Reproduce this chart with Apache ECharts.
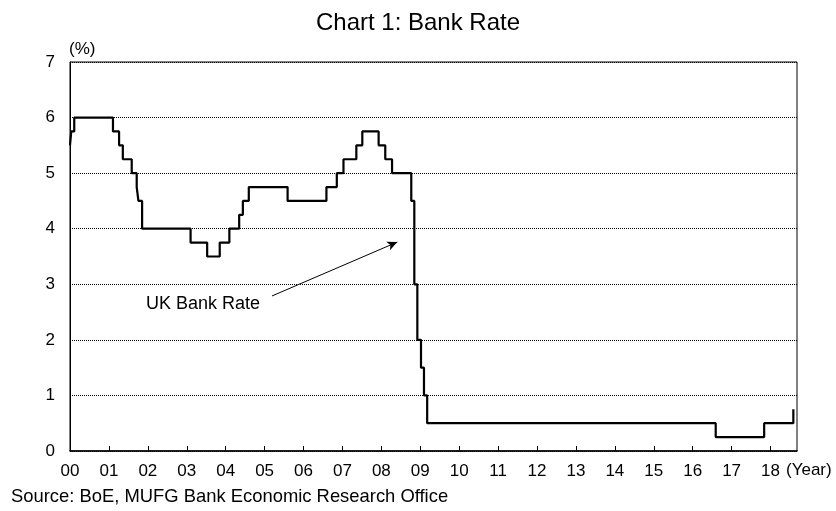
<!DOCTYPE html>
<html>
<head>
<meta charset="utf-8">
<script src="https://cdn.jsdelivr.net/npm/echarts@6/dist/echarts.min.js"></script>
<style>html,body{margin:0;padding:0;background:#fff}#c{width:836px;height:511px}</style>
</head>
<body>
<div id="c"></div>
<script>
// Bank Rate change dates and new rate (%)
var changeDates = ['2000-01-01','2000-01-13','2000-02-10','2001-02-08','2001-04-05','2001-05-10','2001-08-02','2001-09-18','2001-10-04','2001-11-08','2003-02-06','2003-07-10','2003-11-06','2004-02-05','2004-05-06','2004-06-10','2004-08-05','2005-08-04','2006-08-03','2006-11-09','2007-01-11','2007-05-10','2007-07-05','2007-12-06','2008-02-07','2008-04-10','2008-10-08','2008-11-06','2008-12-04','2009-01-08','2009-02-05','2009-03-05','2016-08-04','2017-11-02','2018-08-02'];
var bankRate = [5.5,5.75,6.0,5.75,5.5,5.25,5.0,4.75,4.5,4.0,3.75,3.5,3.75,4.0,4.25,4.5,4.75,4.5,4.75,5.0,5.25,5.5,5.75,5.5,5.25,5.0,4.5,3.0,2.0,1.5,1.0,0.5,0.25,0.5,0.75];
var yearLabels = ['00','01','02','03','04','05','06','07','08','09','10','11','12','13','14','15','16','17','18'];
var yTicks = [0,1,2,3,4,5,6,7];
// annotation arrow (data coords: years since 2000, %)
var arrowFrom = [5.19, 2.79];
var arrowTo = [8.41, 3.76];

function toYear(s){
  var p = s.split('-').map(Number);
  var y = p[0], m = p[1], d = p[2];
  var dim = new Date(y, m, 0).getDate();
  return (y - 2000) + (m - 1 + (d - 1) / dim) / 12;
}
var seriesData = changeDates.map(function(d, i){ return [toYear(d), bankRate[i]]; });
var tickVals = yearLabels.map(function(_, i){ return i; });

var font = '"Liberation Sans", Arial, sans-serif';
var chart = echarts.init(document.getElementById('c'));
chart.setOption({
  animation: false,
  backgroundColor: '#fff',
  title: {
    text: 'Chart 1: Bank Rate', left: 'center', top: 6,
    textStyle: {fontFamily: font, fontSize: 24, fontWeight: 'normal', color: '#000'}
  },
  grid: {left: 70, right: 39, top: 62, bottom: 60, show: true, borderColor: '#000', borderWidth: 1},
  xAxis: {
    type: 'value', min: 0, max: 18.68,
    axisLine: {show: true, lineStyle: {color: '#000', width: 1.5}},
    axisTick: {show: true, inside: true, length: 5, customValues: tickVals, lineStyle: {color: '#000'}},
    axisLabel: {customValues: tickVals, fontFamily: font, fontSize: 17, color: '#000', margin: 12,
      formatter: function(v){ var i = Math.round(v); return yearLabels[i] || ''; }},
    splitLine: {show: false}
  },
  yAxis: {
    type: 'value', min: 0, max: 7, interval: 1,
    name: '(%)', nameLocation: 'end', nameGap: 4,
    nameTextStyle: {fontFamily: font, fontSize: 17, color: '#000', align: 'left', padding: [0,0,0,-1]},
    axisLine: {show: true, lineStyle: {color: '#000', width: 1}},
    axisTick: {show: false},
    axisLabel: {fontFamily: font, fontSize: 17, color: '#000', margin: 15,
      formatter: function(v){ return yTicks.indexOf(v) >= 0 ? String(v) : ''; }},
    splitLine: {show: true, lineStyle: {color: '#000', type: [1,1], width: 1}}
  },
  series: [{
    type: 'line', step: 'end', data: seriesData, showSymbol: false,
    lineStyle: {color: '#000', width: 2.2},
    markLine: {
      silent: true, symbol: ['none', 'arrow'], symbolSize: [7, 10],
      lineStyle: {color: '#000', width: 1, type: 'solid'},
      label: {show: false},
      data: [[{coord: arrowFrom}, {coord: arrowTo}]]
    }
  }],
  graphic: [
    {type: 'text', left: 146, top: 295, style: {text: 'UK Bank Rate', font: '18px ' + font, fill: '#000'}},
    {type: 'text', left: 786, top: 462, style: {text: '(Year)', font: '17px ' + font, fill: '#000'}},
    {type: 'text', left: 11, top: 488, style: {text: 'Source: BoE, MUFG Bank Economic Research Office', font: '18.4px ' + font, fill: '#000'}}
  ]
});
</script>
</body>
</html>
